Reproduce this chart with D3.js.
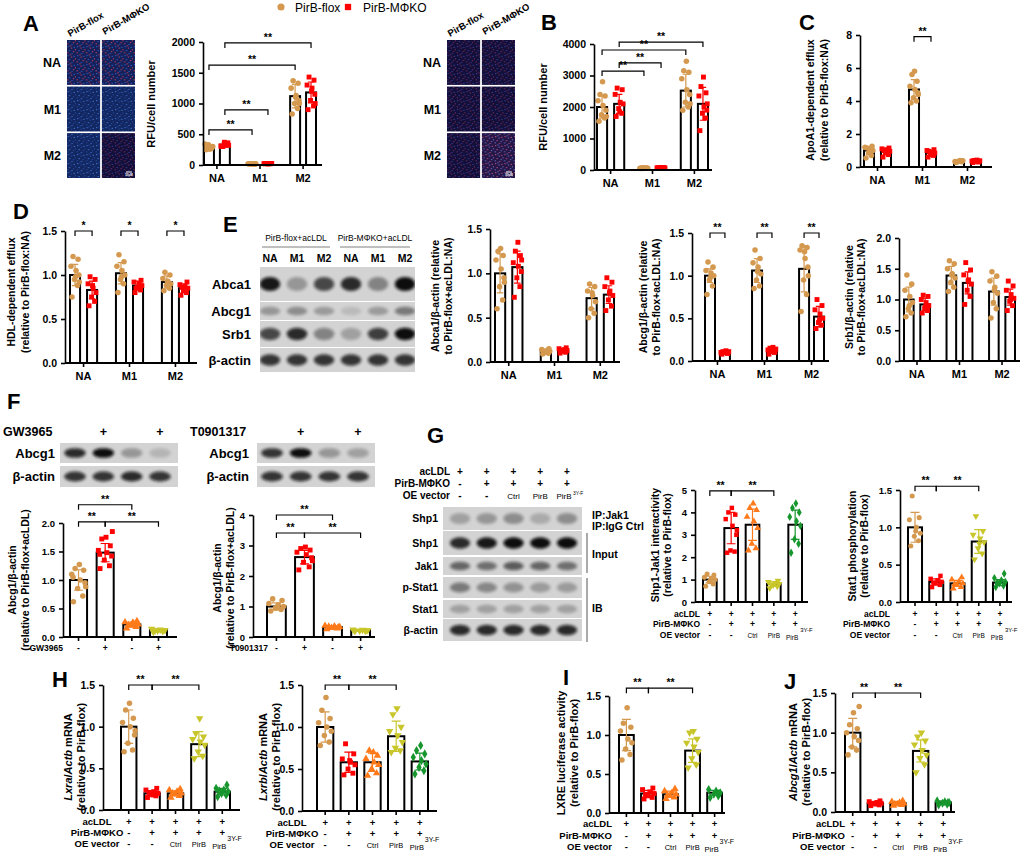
<!DOCTYPE html>
<html>
<head>
<meta charset="utf-8">
<script src="https://cdn.jsdelivr.net/npm/d3@7"></script>
<style>
  body { margin: 0; background: #fff; }
  svg { font-family: "Liberation Sans", Arial, sans-serif; font-weight: bold; }
</style>
</head>
<body>
<div id="fig"></div>
<script>
// ---------- shared labels / colours ----------
const CATS = ["NA", "M1", "M2"];
const GENO = ["PirB-flox", "PirB-MΦKO"];
const FLOX = "#D4994F", KO = "#FF0000", ORANGE = "#FF7A1A", YELLOW = "#C8C62A", GREEN = "#17962E";
const GENO_COLORS = [FLOX, KO, FLOX, KO, FLOX, KO];
const GENO_SHAPES = ["circle", "square", "circle", "square", "circle", "square"];
const OE_COLORS = [FLOX, KO, ORANGE, YELLOW, GREEN];
const OE_SHAPES = ["circle", "square", "tri", "triDown", "diamond"];
const LXR_COLORS = [FLOX, KO, ORANGE, YELLOW];
const LXR_SHAPES = ["circle", "square", "tri", "triDown"];
const OE_ROWS = ["acLDL", "PirB-MΦKO", "OE vector"];
const OE_VALS = [["+", "+", "+", "+", "+"], ["-", "+", "+", "+", "+"], ["-", "-", "Ctrl", "PirB", "PirB"]];
const LXR_VALS = ["-", "+", "-", "+"];

// ---------- A: RFU/cell number ----------
const aMean = [290, 330, 18, 22, 1120, 1180];
const aSd = [40, 30, 4, 4, 190, 170];
const aPts = [
  [250, 270, 330, 300, 260, 340, 290, 310, 260],
  [300, 350, 370, 320, 340, 310, 360, 300, 320],
  [15, 20, 18, 22, 16, 19, 14, 21, 17],
  [20, 24, 22, 25, 19, 23, 21, 22, 20],
  [830, 920, 1000, 1050, 1130, 1250, 1330, 1370, 1100, 1000],
  [900, 960, 1050, 1150, 1250, 1300, 1380, 1430, 1200, 1000]
];
// ---------- B ----------
const bMean = [2000, 2100, 60, 70, 2520, 2100];
const bSd = [350, 300, 8, 8, 520, 520];
const bPts = [
  [1550, 1650, 1750, 1900, 2050, 2200, 2350, 2400, 2800, 1700],
  [1700, 1800, 1950, 2100, 2150, 2400, 2550, 2600, 1850],
  [50, 60, 70, 55, 65, 58, 62, 68],
  [60, 72, 78, 66, 74, 70, 65, 75],
  [1900, 2000, 2150, 2400, 2550, 2900, 3100, 3150, 3450, 2100],
  [1250, 1650, 1800, 1900, 2000, 2350, 2450, 2650, 2950, 2100]
];
// ---------- C: ApoA1-dependent efflux ----------
const cMean = [1.0, 0.95, 4.7, 0.85, 0.35, 0.35];
const cSd = [0.22, 0.18, 0.6, 0.15, 0.05, 0.06];
const cPts = [
  [0.55, 0.7, 0.85, 1.0, 1.1, 1.2, 1.25, 1.15, 0.9],
  [0.6, 0.75, 0.85, 0.95, 1.05, 1.1, 1.15, 1.0, 0.9],
  [3.9, 4.0, 4.2, 4.5, 4.7, 4.9, 5.2, 5.6, 5.8, 4.4],
  [0.6, 0.7, 0.8, 0.85, 0.9, 1.0, 1.05, 0.95, 0.75],
  [0.28, 0.32, 0.35, 0.38, 0.4, 0.33, 0.37, 0.3],
  [0.27, 0.3, 0.34, 0.38, 0.42, 0.36, 0.33, 0.4]
];
// ---------- D: HDL-dependent efflux ----------
const dMean = [1.0, 0.83, 1.02, 0.88, 0.92, 0.85];
const dSd = [0.12, 0.1, 0.12, 0.05, 0.07, 0.05];
const dPts = [
  [0.75, 0.88, 0.95, 1.0, 1.05, 1.1, 1.18, 1.21, 0.98, 0.92],
  [0.65, 0.7, 0.75, 0.8, 0.85, 0.9, 0.95, 0.98, 0.88],
  [0.8, 0.9, 0.95, 1.0, 1.05, 1.1, 1.15, 1.23, 0.98],
  [0.8, 0.83, 0.86, 0.88, 0.9, 0.92, 0.94, 0.85],
  [0.82, 0.85, 0.88, 0.9, 0.93, 0.96, 1.0, 1.03, 0.92],
  [0.77, 0.8, 0.83, 0.85, 0.87, 0.89, 0.92, 0.86]
];
// ---------- E: blot quantification ----------
const e1Mean = [1.0, 1.07, 0.12, 0.13, 0.72, 0.76];
const e1Sd = [0.22, 0.18, 0.02, 0.02, 0.12, 0.1];
const e1Pts = [
  [0.6, 0.7, 0.85, 0.95, 1.05, 1.15, 1.2, 1.25, 1.28, 0.9],
  [0.73, 0.85, 0.95, 1.02, 1.08, 1.12, 1.2, 1.25, 1.35, 1.15],
  [0.09, 0.1, 0.11, 0.12, 0.13, 0.14, 0.15, 0.12],
  [0.1, 0.11, 0.12, 0.13, 0.14, 0.15, 0.16, 0.13],
  [0.5, 0.55, 0.6, 0.68, 0.75, 0.8, 0.85, 0.88, 0.78],
  [0.58, 0.63, 0.7, 0.75, 0.8, 0.85, 0.9, 0.95, 0.78]
];
const e2Mean = [1.0, 0.1, 1.06, 0.12, 1.08, 0.52];
const e2Sd = [0.08, 0.02, 0.14, 0.03, 0.27, 0.12];
const e2Pts = [
  [0.78, 0.88, 0.95, 1.0, 1.03, 1.06, 1.1, 1.16, 0.98],
  [0.08, 0.09, 0.1, 0.11, 0.12, 0.1, 0.09, 0.11],
  [0.85, 0.88, 0.95, 1.02, 1.1, 1.15, 1.2, 1.3, 1.05],
  [0.08, 0.1, 0.12, 0.14, 0.16, 0.13, 0.11, 0.15],
  [0.58, 0.78, 0.95, 1.1, 1.2, 1.3, 1.33, 1.35, 1.28, 1.0],
  [0.38, 0.42, 0.45, 0.5, 0.55, 0.6, 0.65, 0.72, 0.48]
];
const e3Mean = [1.0, 0.92, 1.39, 1.27, 1.13, 1.04];
const e3Sd = [0.2, 0.1, 0.15, 0.18, 0.22, 0.13];
const e3Pts = [
  [0.72, 0.78, 0.85, 0.95, 1.05, 1.15, 1.25, 1.4, 0.9],
  [0.78, 0.82, 0.86, 0.9, 0.95, 1.0, 1.05, 1.07, 0.88],
  [1.13, 1.2, 1.28, 1.35, 1.42, 1.5, 1.58, 1.63, 1.4],
  [0.92, 1.05, 1.15, 1.25, 1.32, 1.4, 1.48, 1.6, 1.3],
  [0.7, 0.85, 0.95, 1.1, 1.2, 1.3, 1.38, 1.45, 1.15],
  [0.82, 0.9, 0.97, 1.02, 1.08, 1.15, 1.22, 1.3, 1.0]
];
// ---------- F: LXR agonists ----------
const f1Mean = [1.0, 1.48, 0.22, 0.12];
const f1Sd = [0.18, 0.16, 0.04, 0.02];
const f1Pts = [
  [0.62, 0.72, 0.85, 0.95, 1.0, 1.1, 1.17, 1.2, 1.27, 0.88, 1.05],
  [1.2, 1.25, 1.35, 1.42, 1.48, 1.52, 1.6, 1.72, 1.75, 1.85, 1.45],
  [0.15, 0.18, 0.2, 0.22, 0.24, 0.26, 0.28, 0.21, 0.25],
  [0.09, 0.1, 0.11, 0.12, 0.13, 0.14, 0.12, 0.11]
];
const f2Mean = [1.0, 2.62, 0.32, 0.22];
const f2Sd = [0.12, 0.22, 0.04, 0.02];
const f2Pts = [
  [0.85, 0.9, 0.95, 1.0, 1.05, 1.1, 1.2, 1.25, 0.98],
  [2.2, 2.3, 2.45, 2.6, 2.7, 2.78, 2.85, 2.9, 2.95, 2.5],
  [0.26, 0.28, 0.3, 0.33, 0.35, 0.37, 0.32, 0.34],
  [0.19, 0.2, 0.21, 0.22, 0.23, 0.24, 0.22]
];
// ---------- G ----------
const g1Mean = [1.0, 3.3, 3.45, 0.8, 3.45];
const g1Sd = [0.15, 0.7, 0.7, 0.1, 0.65];
const g1Pts = [
  [0.7, 0.8, 0.9, 1.0, 1.05, 1.1, 1.2, 1.25, 0.95],
  [2.2, 2.25, 2.3, 3.0, 3.4, 3.7, 3.9, 4.0, 4.2, 3.2],
  [2.3, 2.4, 2.6, 3.3, 3.6, 3.8, 4.1, 4.2, 4.4],
  [0.62, 0.7, 0.75, 0.8, 0.85, 0.9, 0.95, 0.78],
  [2.2, 2.6, 2.8, 3.4, 3.6, 3.8, 4.0, 4.2, 4.4]
];
const g2Mean = [1.0, 0.27, 0.25, 0.81, 0.26];
const g2Sd = [0.2, 0.04, 0.04, 0.16, 0.04];
const g2Pts = [
  [0.75, 0.82, 0.88, 0.92, 1.0, 1.1, 1.13, 1.42, 0.95],
  [0.2, 0.23, 0.25, 0.27, 0.29, 0.31, 0.35, 0.26],
  [0.18, 0.2, 0.23, 0.25, 0.27, 0.3, 0.33, 0.24],
  [0.57, 0.65, 0.72, 0.8, 0.85, 0.9, 0.95, 1.15, 0.78],
  [0.2, 0.22, 0.25, 0.27, 0.29, 0.32, 0.38, 0.26]
];
// ---------- H ----------
const h1Mean = [1.0, 0.2, 0.2, 0.79, 0.22];
const h1Sd = [0.2, 0.03, 0.03, 0.15, 0.04];
const h1Pts = [
  [0.7, 0.72, 0.8, 0.9, 1.0, 1.05, 1.1, 1.2, 1.28, 0.95],
  [0.15, 0.17, 0.19, 0.2, 0.22, 0.24, 0.26, 0.21, 0.18],
  [0.15, 0.17, 0.19, 0.2, 0.22, 0.24, 0.25, 0.2],
  [0.62, 0.65, 0.7, 0.78, 0.82, 0.85, 0.88, 0.92, 1.1],
  [0.16, 0.18, 0.2, 0.22, 0.24, 0.26, 0.3, 0.23]
];
const h2Mean = [1.0, 0.58, 0.58, 0.89, 0.59];
const h2Sd = [0.18, 0.12, 0.11, 0.18, 0.1];
const h2Pts = [
  [0.78, 0.82, 0.9, 0.95, 1.0, 1.05, 1.1, 1.2, 1.35],
  [0.43, 0.45, 0.5, 0.55, 0.58, 0.62, 0.68, 0.8, 0.6],
  [0.42, 0.45, 0.5, 0.55, 0.58, 0.62, 0.66, 0.72, 0.7],
  [0.7, 0.72, 0.75, 0.82, 0.9, 0.95, 1.0, 1.15, 1.22],
  [0.44, 0.48, 0.52, 0.56, 0.6, 0.64, 0.68, 0.72, 0.78]
];
// ---------- I ----------
const iMean = [1.0, 0.25, 0.24, 0.8, 0.26];
const iSd = [0.2, 0.04, 0.04, 0.15, 0.03];
const iPts = [
  [0.68, 0.75, 0.82, 0.9, 0.95, 1.05, 1.1, 1.15, 1.35],
  [0.18, 0.2, 0.22, 0.25, 0.27, 0.3, 0.32, 0.24],
  [0.18, 0.2, 0.22, 0.24, 0.26, 0.28, 0.31, 0.23],
  [0.58, 0.62, 0.7, 0.78, 0.85, 0.9, 0.95, 1.03, 1.05],
  [0.2, 0.22, 0.24, 0.26, 0.28, 0.3, 0.25]
];
// ---------- J ----------
const jMean = [1.0, 0.11, 0.11, 0.77, 0.12];
const jSd = [0.18, 0.02, 0.02, 0.14, 0.02];
const jPts = [
  [0.72, 0.78, 0.82, 0.9, 0.95, 1.0, 1.05, 1.1, 1.25, 1.33],
  [0.08, 0.09, 0.1, 0.11, 0.12, 0.13, 0.14, 0.11],
  [0.08, 0.09, 0.1, 0.11, 0.12, 0.13, 0.14, 0.1],
  [0.5, 0.6, 0.68, 0.72, 0.78, 0.85, 0.9, 0.95, 1.0],
  [0.09, 0.1, 0.11, 0.12, 0.13, 0.14, 0.12]
];
// ---------- blot band strengths (0..1) ----------
const eBlot = {
  "Abca1": [0.95, 0.3, 0.7, 0.85, 0.4, 1.0],
  "Abcg1": [0.3, 0.35, 0.28, 0.12, 0.28, 0.45],
  "Srb1": [0.7, 0.85, 0.4, 0.25, 0.75, 1.0],
  "β-actin": [0.8, 0.8, 0.8, 0.8, 0.8, 0.8]
};
const fGwBlot = [[0.85, 1.0, 0.3, 0.15], [0.8, 0.8, 0.85, 0.8]];
const fToBlot = [[0.8, 1.0, 0.3, 0.25], [0.8, 0.8, 0.8, 0.8]];
const gBlotLabels = ["Shp1", "Shp1", "Jak1", "p-Stat1", "Stat1", "β-actin"];
const gBlot = [
  [0.25, 0.3, 0.35, 0.2, 0.35],
  [0.85, 0.95, 1.0, 1.0, 1.0],
  [0.55, 0.5, 0.6, 0.55, 0.5],
  [0.45, 0.38, 0.32, 0.28, 0.28],
  [0.25, 0.25, 0.25, 0.25, 0.25],
  [0.85, 0.85, 0.85, 0.85, 0.85]
];

// ---------- setup ----------
const svg = d3.select("#fig").append("svg").attr("width", 1024).attr("height", 852);
const defs = svg.append("defs");
defs.append("filter").attr("id", "blur").attr("x", "-50%").attr("y", "-80%").attr("width", "200%").attr("height", "260%")
  .append("feGaussianBlur").attr("stdDeviation", 1.8);

const SHAPES = { circle: d3.symbolCircle, square: d3.symbolSquare, tri: d3.symbolTriangle, triDown: d3.symbolTriangle, diamond: d3.symbolDiamond };
const JIT = [-0.3, 0.25, -0.05, 0.38, 0.1, -0.4, 0.3, -0.2, 0.05, 0.42, -0.32, 0.18];

function mark(g, shape, x, y, color, size) {
  g.append("path")
    .attr("d", d3.symbol().type(SHAPES[shape]).size(size)())
    .attr("transform", `translate(${x},${y})` + (shape === "triDown" ? " rotate(180)" : ""))
    .attr("fill", color);
}

function letter(s, x, y) {
  svg.append("text").attr("x", x).attr("y", y).attr("font-size", 22).text(s);
}

function yLabel(lines, xs, yc, fs) {
  lines.forEach((ln, k) => {
    const t = svg.append("text")
      .attr("transform", `translate(${xs[k]},${yc}) rotate(-90)`)
      .attr("text-anchor", "middle").attr("dy", "0.35em").attr("font-size", fs || 10.5);
    (typeof ln === "string" ? [[ln, false]] : ln).forEach(([s, it]) =>
      t.append("tspan").text(s).attr("font-style", it ? "italic" : null));
  });
}

function chart(o) {
  const g = svg.append("g");
  const y = d3.scaleLinear().domain([0, o.ymax]).range([o.y0, o.yTop]);
  let xs, bars;
  if (o.grouped) {
    xs = d3.scaleBand().domain(CATS).range(o.bands).paddingInner(o.pad).paddingOuter(0);
    const xg = d3.scaleBand().domain([0, 1]).range([0, xs.bandwidth()]).paddingInner(o.gpad);
    bars = o.means.map((m, i) => ({ x: xs(CATS[i >> 1]) + xg(i % 2), w: xg.bandwidth() }));
  } else {
    xs = d3.scaleBand().domain(d3.range(o.means.length)).range(o.bands).paddingInner(o.pad).paddingOuter(0);
    bars = o.means.map((m, i) => ({ x: xs(i), w: xs.bandwidth() }));
  }
  bars.forEach(b => b.c = b.x + b.w / 2);

  g.selectAll("rect").data(o.means).join("rect")
    .attr("x", (d, i) => bars[i].x).attr("y", d => y(d))
    .attr("width", (d, i) => bars[i].w).attr("height", d => o.y0 - y(d))
    .attr("fill", "#fff").attr("stroke", "#000").attr("stroke-width", 2);

  o.pts.forEach((arr, i) => arr.forEach((v, k) =>
    mark(g, o.shapes[i], bars[i].c + JIT[k % JIT.length] * bars[i].w, y(v), o.colors[i], o.msize || 24)));

  o.means.forEach((m, i) => {
    const c = bars[i].c, cw = Math.min(bars[i].w * 0.32, 4.5);
    const hi = y(m + o.sds[i]), lo = y(Math.max(0, m - o.sds[i]));
    g.append("path")
      .attr("d", `M${c},${lo}V${hi}M${c - cw},${hi}H${c + cw}M${c - cw},${lo}H${c + cw}`)
      .attr("stroke", o.colors[i]).attr("stroke-width", 1.2).attr("fill", "none");
  });

  const ya = g.append("g").attr("transform", `translate(${o.x0},0)`)
    .call(d3.axisLeft(y).tickValues(o.ticks).tickFormat(d3.format(o.fmt)).tickSize(4).tickSizeOuter(0).tickPadding(4));
  const xa = g.append("g").attr("transform", `translate(0,${o.y0})`)
    .call(d3.axisBottom(xs).tickSize(4).tickPadding(5).tickFormat(o.grouped ? d => d : () => ""));
  xa.select(".domain").remove();
  g.append("line").attr("x1", o.x0).attr("x2", o.x1).attr("y1", o.y0).attr("y2", o.y0)
    .attr("stroke", "#000").attr("stroke-width", 1.8);
  [ya, xa].forEach(a => {
    a.attr("font-family", null).attr("font-size", o.fs || 10.5);
    a.selectAll("path,line").attr("stroke", "#000").attr("stroke-width", 1.6);
    a.selectAll("text").attr("fill", "#000");
  });
  if (o.grouped) xa.selectAll("text").attr("font-size", 11);

  (o.brackets || []).forEach(([i, j, v, lab]) => {
    const yy = y(v), x1 = bars[i].c, x2 = bars[j].c;
    g.append("path").attr("d", `M${x1},${yy + 5}V${yy}H${x2}V${yy + 5}`)
      .attr("fill", "none").attr("stroke", "#000").attr("stroke-width", 1.2);
    g.append("text").attr("x", (x1 + x2) / 2).attr("y", yy - 2).attr("text-anchor", "middle")
      .attr("font-size", 10.5).text(lab || "**");
  });

  if (o.table) {
    const t = o.table;
    t.rows.forEach((r, k) => {
      const yy = o.y0 + t.dy[k] + 3.5;
      g.append("text").attr("x", t.lx).attr("y", yy).attr("text-anchor", t.anchor)
        .attr("font-size", t.fs).text(r);
      t.vals[k].forEach((v, i) => {
        const small = v.length > 1;
        const last = small && i === o.means.length - 1;
        g.append("text").attr("x", bars[i].c - (last ? 3 : 0)).attr("y", yy + (last ? 2 : 0))
          .attr("text-anchor", "middle").attr("font-size", small ? t.fs - 2 : t.fs)
          .attr("font-weight", small ? "normal" : "bold").text(v);
        if (last) g.append("text").attr("x", bars[i].c + 5).attr("y", yy - 6)
          .attr("font-size", t.fs - 2.5).attr("font-weight", "normal").text("3Y-F");
      });
    });
  }
  return bars;
}

// ---------- micrographs ----------
const SPECKS = [[1, 1, 0], [4.5, 2.5, 1], [2.5, 5, 0], [6.5, 6, 1], [7.2, 1.8, 0], [0.6, 7.2, 1], [5, 8, 0], [8.4, 4.2, 1], [3.3, 0.2, 1]];
const CELL_STYLES = {
  cellRB: ["#14205a", "#2f5cc0", "#b8405e"],
  cellB: ["#122660", "#3a72d0", "#24489e"],
  cellP: ["#120f38", "#3a3a9a", "#702860"],
  cellPk: ["#241748", "#b0507c", "#6664b8"]
};
Object.entries(CELL_STYLES).forEach(([id, c]) => {
  const p = defs.append("pattern").attr("id", id).attr("patternUnits", "userSpaceOnUse")
    .attr("width", 9.5).attr("height", 9);
  p.append("rect").attr("width", 9.5).attr("height", 9).attr("fill", c[0]);
  SPECKS.forEach(([x, y, k]) => p.append("rect").attr("x", x).attr("y", y)
    .attr("width", 1.2).attr("height", 1.2).attr("fill", c[k + 1]));
});

function micro(x0, layout, rowLabelX) {
  const cols = d3.scaleBand().domain([0, 1]).range([x0, x0 + 68]).paddingInner(0.05);
  const rows = d3.scaleBand().domain(CATS).range([40, 178]).paddingInner(0.035);
  CATS.forEach((c, r) => {
    layout[r].forEach((pat, k) => svg.append("rect").attr("x", cols(k)).attr("y", rows(c))
      .attr("width", cols.bandwidth()).attr("height", rows.bandwidth()).attr("fill", `url(#${pat})`));
    svg.append("text").attr("x", rowLabelX).attr("y", rows(c) + rows.bandwidth() / 2 + 4.5)
      .attr("text-anchor", "end").attr("font-size", 12.5).text(c);
  });
  GENO.forEach((s, k) => svg.append("text")
    .attr("transform", `translate(${cols(k) + 3},${37 - k * 2}) rotate(-30)`)
    .attr("font-size", 9.5).text(s));
  const sx = cols(1) + cols.bandwidth() - 9, sy = rows("M2") + rows.bandwidth() - 6;
  svg.append("line").attr("x1", sx).attr("x2", sx + 6).attr("y1", sy).attr("y2", sy).attr("stroke", "#fff").attr("stroke-width", 1);
  svg.append("text").attr("x", sx + 3).attr("y", sy + 4).attr("text-anchor", "middle").attr("font-size", 3).attr("fill", "#fff").text("50μM");
}

// ---------- western blots ----------
let clipN = 0;
function blot(o) {
  const lanes = d3.scalePoint().domain(d3.range(o.rows[0].v.length)).range(o.lanes);
  const rx = (o.lanes[1] - o.lanes[0]) / (o.rows[0].v.length - 1) * 0.38;
  o.rows.forEach(r => {
    const id = "clip" + (clipN++);
    defs.append("clipPath").attr("id", id).append("rect")
      .attr("x", o.x0).attr("y", r.y0).attr("width", o.x1 - o.x0).attr("height", r.y1 - r.y0);
    const g = svg.append("g").attr("clip-path", `url(#${id})`);
    g.append("rect").attr("x", o.x0).attr("y", r.y0).attr("width", o.x1 - o.x0).attr("height", r.y1 - r.y0)
      .attr("fill", "#d3d3d3");
    r.v.forEach((v, i) => g.append("ellipse").attr("cx", lanes(i)).attr("cy", (r.y0 + r.y1) / 2)
      .attr("rx", rx).attr("ry", Math.min((r.y1 - r.y0) * 0.24, 7)).attr("fill", "#0b0b0b")
      .attr("opacity", v).attr("filter", "url(#blur)"));
    svg.append("text").attr("x", o.labelX).attr("y", (r.y0 + r.y1) / 2 + o.fs * 0.36)
      .attr("text-anchor", "end").attr("font-size", o.fs).text(r.label);
  });
  return lanes;
}

// ---------- legend ----------
mark(svg, "circle", 281, 7, FLOX, 40);
svg.append("text").attr("x", 295).attr("y", 11.5).attr("font-size", 12).attr("font-weight", "normal").text(GENO[0]);
mark(svg, "square", 348, 7, KO, 40);
svg.append("text").attr("x", 363).attr("y", 11.5).attr("font-size", 12).attr("font-weight", "normal").text(GENO[1]);

// ---------- panel A ----------
letter("A", 23, 31);
micro(67, [["cellRB", "cellRB"], ["cellB", "cellB"], ["cellB", "cellP"]], 61);
micro(447, [["cellP", "cellP"], ["cellP", "cellP"], ["cellP", "cellPk"]], 441);
chart({ grouped: true, means: aMean, sds: aSd, pts: aPts, colors: GENO_COLORS, shapes: GENO_SHAPES,
  x0: 203, x1: 322, y0: 165, yTop: 42, ymax: 2000, ticks: [0, 500, 1000, 1500, 2000], fmt: "d",
  bands: [204, 316], pad: 0.4, gpad: 0.375,
  brackets: [[0, 2, 570], [1, 3, 895], [0, 4, 1625], [1, 5, 1985]] });
yLabel(["RFU/cell number"], [151], 104, 11);

// ---------- panel B ----------
letter("B", 541, 30);
chart({ grouped: true, means: bMean, sds: bSd, pts: bPts, colors: GENO_COLORS, shapes: GENO_SHAPES,
  x0: 594, x1: 712, y0: 170, yTop: 44, ymax: 4000, ticks: [0, 1000, 2000, 3000, 4000], fmt: "d",
  bands: [597, 708], pad: 0.35, gpad: 0.41,
  brackets: [[0, 2, 3140], [1, 3, 3400], [0, 4, 3810], [1, 5, 4060]] });
yLabel(["RFU/cell number"], [543], 107, 11);

// ---------- panel C ----------
letter("C", 799, 30);
chart({ grouped: true, means: cMean, sds: cSd, pts: cPts, colors: GENO_COLORS, shapes: GENO_SHAPES,
  x0: 860, x1: 992, y0: 167, yTop: 35, ymax: 8, ticks: [0, 2, 4, 6, 8], fmt: "d",
  bands: [864, 981], pad: 0.4, gpad: 0.41, brackets: [[2, 3, 7.9]] });
yLabel(["ApoA1-dependent efflux", "(relative to PirB-flox:NA)"], [810, 824], 100);

// ---------- panel D ----------
letter("D", 13, 219);
chart({ grouped: true, means: dMean, sds: dSd, pts: dPts, colors: GENO_COLORS, shapes: GENO_SHAPES,
  x0: 65, x1: 197, y0: 363, yTop: 231, ymax: 1.5, ticks: [0, 0.5, 1, 1.5], fmt: ".1f",
  bands: [70, 189], pad: 0.41, gpad: 0.41,
  brackets: [[0, 1, 1.5, "*"], [2, 3, 1.5, "*"], [4, 5, 1.5, "*"]] });
yLabel(["HDL-dependent efflux", "(relative to PirB-flox:NA)"], [11, 25], 292);

// ---------- panel E ----------
letter("E", 223, 232);
svg.append("text").attr("x", 296).attr("y", 241).attr("text-anchor", "middle").attr("font-size", 8.5)
  .attr("font-weight", "normal").text("PirB-flox+acLDL");
svg.append("text").attr("x", 375).attr("y", 241).attr("text-anchor", "middle").attr("font-size", 8.5)
  .attr("font-weight", "normal").text("PirB-MΦKO+acLDL");
[[262, 330], [340, 410]].forEach(([a, b]) => svg.append("line").attr("x1", a).attr("x2", b)
  .attr("y1", 247).attr("y2", 247).attr("stroke", "#aaa").attr("stroke-width", 1.5));
const eRowsY = [[267, 301], [302, 320], [321, 347], [348, 372]];
const eLanes = blot({ x0: 260, x1: 415, lanes: [270, 405], labelX: 251, fs: 13,
  rows: Object.entries(eBlot).map(([label, v], k) => ({ label, v, y0: eRowsY[k][0], y1: eRowsY[k][1] })) });
CATS.concat(CATS).forEach((c, i) => svg.append("text").attr("x", eLanes(i)).attr("y", 262)
  .attr("text-anchor", "middle").attr("font-size", 10.5).text(c));

chart({ grouped: true, means: e1Mean, sds: e1Sd, pts: e1Pts, colors: GENO_COLORS, shapes: GENO_SHAPES,
  x0: 490, x1: 620, y0: 362, yTop: 229, ymax: 1.5, ticks: [0, 0.5, 1, 1.5], fmt: ".1f",
  bands: [495, 614], pad: 0.4, gpad: 0.41 });
yLabel(["Abca1/β-actin (relative", "to PirB-flox+acLDL:NA)"], [435, 448], 296);
chart({ grouped: true, means: e2Mean, sds: e2Sd, pts: e2Pts, colors: GENO_COLORS, shapes: GENO_SHAPES,
  x0: 692, x1: 829, y0: 361, yTop: 233, ymax: 1.5, ticks: [0, 0.5, 1, 1.5], fmt: ".1f",
  bands: [705, 824], pad: 0.47, gpad: 0.33,
  brackets: [[0, 1, 1.5], [2, 3, 1.5], [4, 5, 1.5]] });
yLabel(["Abcg1/β-actin (relative", "to PirB-flox+acLDL:NA)"], [643, 656], 297);
chart({ grouped: true, means: e3Mean, sds: e3Sd, pts: e3Pts, colors: GENO_COLORS, shapes: GENO_SHAPES,
  x0: 899, x1: 1020, y0: 361, yTop: 238, ymax: 2, ticks: [0, 0.5, 1, 1.5, 2], fmt: ".1f",
  bands: [904, 1015], pad: 0.39, gpad: 0.41 });
yLabel(["Srb1/β-actin (relative", "to PirB-flox+acLDL:NA)"], [849, 861], 297);

// ---------- panel F ----------
letter("F", 7, 409);
[["GW3965", 3, fGwBlot, 60, 178, [75, 160], 55], ["T0901317", 190, fToBlot, 257, 375, [272, 358], 249]]
  .forEach(([name, tx, vals, x0, x1, lanes, lx]) => {
    svg.append("text").attr("x", tx).attr("y", 436).attr("font-size", 12.5).text(name);
    const ln = blot({ x0, x1, lanes, labelX: lx, fs: 13,
      rows: [{ label: "Abcg1", v: vals[0], y0: 443, y1: 463 }, { label: "β-actin", v: vals[1], y0: 466, y1: 487 }] });
    LXR_VALS.forEach((s, i) => { if (s === "+") svg.append("text").attr("x", ln(i)).attr("y", 436)
      .attr("text-anchor", "middle").attr("font-size", 12.5).text("+"); });
  });
chart({ means: f1Mean, sds: f1Sd, pts: f1Pts, colors: LXR_COLORS, shapes: LXR_SHAPES,
  x0: 63, x1: 177, y0: 637, yTop: 523, ymax: 2, ticks: [0, 0.5, 1, 1.5, 2], fmt: ".1f", fs: 9.5,
  bands: [70, 167], pad: 0.36,
  brackets: [[0, 2, 2.32], [0, 1, 2.02], [1, 3, 2.02]],
  table: { rows: ["GW3965"], vals: [LXR_VALS], dy: [10], lx: 63, anchor: "end", fs: 8.5 } });
yLabel(["Abcg1/β-actin", "(relative to PirB-flox+acLDL)"], [12, 25], 580);
chart({ means: f2Mean, sds: f2Sd, pts: f2Pts, colors: LXR_COLORS, shapes: LXR_SHAPES,
  x0: 253, x1: 375, y0: 637, yTop: 515, ymax: 4, ticks: [0, 1, 2, 3, 4], fmt: "d", fs: 9.5,
  bands: [267, 370], pad: 0.33,
  brackets: [[0, 2, 4.0], [0, 1, 3.41], [1, 3, 3.41]],
  table: { rows: ["T0901317"], vals: [LXR_VALS], dy: [10], lx: 268, anchor: "end", fs: 8.5 } });
yLabel(["Abcg1/β-actin", "(relative to PirB-flox+acLDL)"], [217, 230], 578);

// ---------- panel G ----------
letter("G", 427, 443);
const gRowsY = [[507, 530], [531, 555], [557, 575], [577, 598], [600, 618], [619, 641]];
const gLanes = blot({ x0: 443, x1: 582, lanes: [460, 567], labelX: 438, fs: 10.5,
  rows: gBlot.map((v, k) => ({ label: gBlotLabels[k], v, y0: gRowsY[k][0], y1: gRowsY[k][1] })) });
OE_ROWS.forEach((r, k) => {
  const yy = 475 + k * 12;
  svg.append("text").attr("x", 450).attr("y", yy).attr("text-anchor", "end").attr("font-size", 10).text(r);
  OE_VALS[k].forEach((v, i) => {
    const small = v.length > 1;
    svg.append("text").attr("x", gLanes(i) - (i === 4 && small ? 3 : 0)).attr("y", yy)
      .attr("text-anchor", "middle").attr("font-size", small ? 8 : 10)
      .attr("font-weight", small ? "normal" : "bold").text(v);
    if (small && i === 4) svg.append("text").attr("x", gLanes(i) + 6).attr("y", yy - 4)
      .attr("font-size", 5).attr("font-weight", "normal").text("3Y-F");
  });
});
[["IP:Jak1", 519], ["IP:IgG Ctrl", 530], ["Input", 558], ["IB", 612]].forEach(([s, yy]) =>
  svg.append("text").attr("x", 592).attr("y", yy).attr("font-size", 10.5).text(s));
[[533, 573], [578, 642]].forEach(([a, b]) => svg.append("line").attr("x1", 587).attr("x2", 587)
  .attr("y1", a).attr("y2", b).attr("stroke", "#555").attr("stroke-width", 1));

chart({ means: g1Mean, sds: g1Sd, pts: g1Pts, colors: OE_COLORS, shapes: OE_SHAPES, msize: 20,
  x0: 695, x1: 808, y0: 602, yTop: 490, ymax: 5, ticks: [0, 1, 2, 3, 4, 5], fmt: "d", fs: 9.5,
  bands: [703, 802], pad: 0.36, brackets: [[0, 1, 4.96], [1, 3, 4.96]],
  table: { rows: OE_ROWS, vals: OE_VALS, dy: [11, 21, 32], lx: 700, anchor: "end", fs: 8.5 } });
yLabel(["Shp1-Jak1 interactivity", "(relative to PirB-flox)"], [655, 667], 545);
chart({ means: g2Mean, sds: g2Sd, pts: g2Pts, colors: OE_COLORS, shapes: OE_SHAPES, msize: 20,
  x0: 900, x1: 1012, y0: 602, yTop: 490, ymax: 1.5, ticks: [0, 0.5, 1, 1.5], fmt: ".1f", fs: 9.5,
  bands: [908, 1007], pad: 0.34, brackets: [[0, 1, 1.55], [1, 3, 1.55]],
  table: { rows: OE_ROWS, vals: OE_VALS, dy: [11, 21, 32], lx: 890, anchor: "end", fs: 8.5 } });
yLabel(["Stat1 phosphorylation", "(relative to PirB-flox)"], [852, 864], 546);

// ---------- panel H ----------
letter("H", 52, 687);
chart({ means: h1Mean, sds: h1Sd, pts: h1Pts, colors: OE_COLORS, shapes: OE_SHAPES,
  x0: 103, x1: 240, y0: 810, yTop: 685, ymax: 1.5, ticks: [0, 0.5, 1, 1.5], fmt: ".1f",
  bands: [121, 230], pad: 0.34, brackets: [[0, 1, 1.5], [1, 3, 1.5]],
  table: { rows: OE_ROWS, vals: OE_VALS, dy: [11, 22, 33], lx: 97, anchor: "middle", fs: 9.5 } });
yLabel([[["Lxra", true], ["/", false], ["Actb", true], [" mRNA", false]], "(relative to PirB-flox)"], [68, 81], 757, 11);
chart({ means: h2Mean, sds: h2Sd, pts: h2Pts, colors: OE_COLORS, shapes: OE_SHAPES,
  x0: 302, x1: 437, y0: 811, yTop: 685, ymax: 1.5, ticks: [0, 0.5, 1, 1.5], fmt: ".1f",
  bands: [317, 428], pad: 0.31, brackets: [[0, 1, 1.5], [1, 3, 1.5]],
  table: { rows: OE_ROWS, vals: OE_VALS, dy: [11, 22, 33], lx: 292, anchor: "middle", fs: 9.5 } });
yLabel([[["Lxrb", true], ["/", false], ["Actb", true], [" mRNA", false]], "(relative to PirB-flox)"], [263, 276], 757, 11);

// ---------- panel I ----------
letter("I", 563, 685);
chart({ means: iMean, sds: iSd, pts: iPts, colors: OE_COLORS, shapes: OE_SHAPES,
  x0: 609, x1: 725, y0: 813, yTop: 696, ymax: 1.5, ticks: [0, 0.5, 1, 1.5], fmt: ".1f",
  bands: [619, 722], pad: 0.33, brackets: [[0, 1, 1.6], [1, 3, 1.6]],
  table: { rows: OE_ROWS, vals: OE_VALS, dy: [10, 22, 33], lx: 612, anchor: "end", fs: 9.5 } });
yLabel(["LXRE luciferase activity", "(relative to PirB-flox)"], [561, 574], 753, 11);

// ---------- panel J ----------
letter("J", 784, 689);
chart({ means: jMean, sds: jSd, pts: jPts, colors: OE_COLORS, shapes: OE_SHAPES,
  x0: 835, x1: 955, y0: 812, yTop: 693, ymax: 1.5, ticks: [0, 0.5, 1, 1.5], fmt: ".1f",
  bands: [845, 951], pad: 0.32, brackets: [[0, 1, 1.5], [1, 3, 1.5]],
  table: { rows: OE_ROWS, vals: OE_VALS, dy: [11, 23, 34], lx: 845, anchor: "end", fs: 9.5 } });
yLabel([[["Abcg1", true], ["/", false], ["Actb", true], [" mRNA", false]], "(relative to PirB-flox)"], [793, 806], 752, 11);
</script>
</body>
</html>
